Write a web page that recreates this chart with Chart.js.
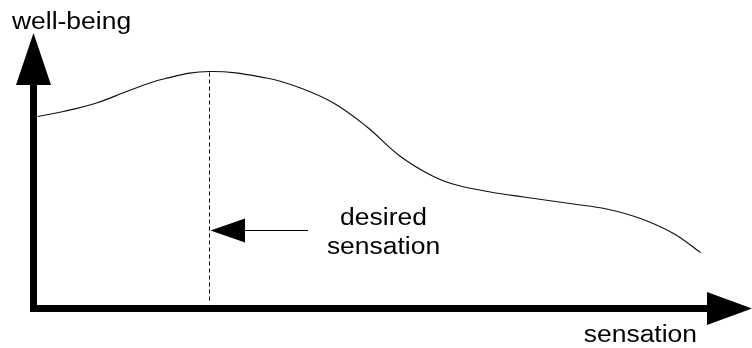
<!DOCTYPE html>
<html>
<head>
<meta charset="utf-8">
<script src="https://cdn.jsdelivr.net/npm/chart.js@4"></script>
<style>
  html, body { margin: 0; padding: 0; background: #fff; }
  #wrap { width: 752px; height: 348px; }
</style>
</head>
<body>
<div id="wrap"><canvas id="diagram"></canvas></div>
<script>
// curve (arbitrary units, origin at the axes corner)
const sensation = [4, 30, 63, 97, 130, 176, 233, 267, 300, 333, 367, 400, 423, 457, 490, 540, 573, 607, 640, 667];
const wellBeing = [192, 197, 205.5, 218.5, 229.5, 237, 230.5, 220.5, 205.5, 182, 152, 132, 123.5, 116.5, 111.5, 104.5, 99.5, 90, 75, 56];
const desiredSensation = 176;
const axisTitles = { x: 'sensation', y: 'well-being' };
const noteLines = ['desired', 'sensation'];

function stretchedText(ctx, text, x, y, align) {
  ctx.save();
  ctx.translate(x, y);
  ctx.scale(1.15, 1);
  ctx.textAlign = align;
  ctx.fillText(text, 0, 0);
  ctx.restore();
}

// axes with arrowheads, dashed marker, note arrow and labels
const sketchPlugin = {
  id: 'sketch',
  afterDatasetsDraw(chart) {
    const ctx = chart.ctx;
    const xs = chart.scales.x, ys = chart.scales.y;
    const x0 = xs.getPixelForValue(0);
    const y0 = ys.getPixelForValue(0);
    ctx.save();
    ctx.fillStyle = '#000';
    ctx.strokeStyle = '#000';

    // vertical axis
    const vBase = ys.getPixelForValue(223.5);
    const vTip = ys.getPixelForValue(275.5);
    ctx.fillRect(x0 - 3.5, vBase, 7, y0 + 3.5 - vBase);
    ctx.beginPath();
    ctx.moveTo(x0 - 17.5, vBase);
    ctx.lineTo(x0 + 17.5, vBase);
    ctx.lineTo(x0, vTip);
    ctx.closePath();
    ctx.fill();

    // horizontal axis
    const hBase = xs.getPixelForValue(673.5);
    const hTip = xs.getPixelForValue(718.5);
    ctx.fillRect(x0 - 3.5, y0 - 3.5, hBase - (x0 - 3.5), 7);
    ctx.beginPath();
    ctx.moveTo(hBase, y0 - 16.5);
    ctx.lineTo(hBase, y0 + 16.5);
    ctx.lineTo(hTip, y0);
    ctx.closePath();
    ctx.fill();

    // dashed line at the peak
    const dx = xs.getPixelForValue(desiredSensation);
    ctx.lineWidth = 1;
    ctx.setLineDash([4, 3]);
    ctx.beginPath();
    ctx.moveTo(dx, ys.getPixelForValue(236));
    ctx.lineTo(dx, ys.getPixelForValue(6.5));
    ctx.stroke();
    ctx.setLineDash([]);

    // note arrow
    const ay = ys.getPixelForValue(78);
    const aStart = xs.getPixelForValue(274.5);
    const aHead = xs.getPixelForValue(211.5);
    const aTip = xs.getPixelForValue(desiredSensation + 1);
    ctx.beginPath();
    ctx.moveTo(aStart, ay);
    ctx.lineTo(aHead, ay);
    ctx.stroke();
    ctx.beginPath();
    ctx.moveTo(aHead, ay - 12);
    ctx.lineTo(aHead, ay + 12);
    ctx.lineTo(aTip, ay);
    ctx.closePath();
    ctx.fill();

    // labels
    ctx.font = '23px "Liberation Sans", Arial, sans-serif';
    ctx.textBaseline = 'alphabetic';
    stretchedText(ctx, axisTitles.y, 12, 29, 'left');
    stretchedText(ctx, axisTitles.x, 697, 342, 'right');
    const nx = xs.getPixelForValue(350);
    stretchedText(ctx, noteLines[0], nx, ys.getPixelForValue(83.5), 'center');
    stretchedText(ctx, noteLines[1], nx, ys.getPixelForValue(54.5), 'center');
    ctx.restore();
  }
};

new Chart(document.getElementById('diagram'), {
  type: 'line',
  data: {
    datasets: [{
      data: sensation.map((s, i) => ({ x: s, y: wellBeing[i] })),
      borderColor: '#111',
      borderWidth: 1.2,
      pointRadius: 0,
      tension: 0.4,
      fill: false
    }]
  },
  options: {
    responsive: true,
    maintainAspectRatio: false,
    animation: false,
    layout: { padding: 0 },
    plugins: { legend: { display: false }, tooltip: { enabled: false } },
    scales: {
      x: { type: 'linear', min: -33.5, max: 718.5, display: false },
      y: { min: -39.5, max: 308.5, display: false }
    }
  },
  plugins: [sketchPlugin]
});
</script>
</body>
</html>
